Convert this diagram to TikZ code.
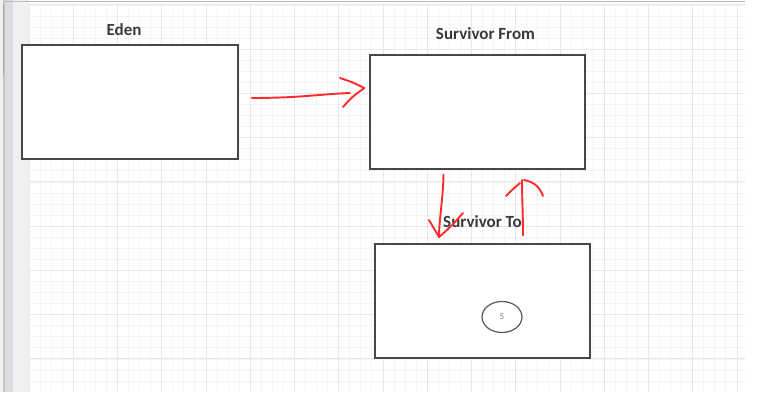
\documentclass[tikz,border=0pt]{standalone}
\usepackage{fontspec}
\setmainfont{Carlito}
\usetikzlibrary{shapes.geometric,positioning}

\definecolor{gridminor}{HTML}{F4F4F4}
\definecolor{gridmajor}{HTML}{E8E8E8}
\definecolor{boxline}{HTML}{474747}
\definecolor{labeltext}{HTML}{3A3A3A}
\definecolor{pen}{HTML}{FF2A2A}
\definecolor{sidebar}{HTML}{DCDCE0}
\definecolor{sidepad}{HTML}{F0F0F0}

\begin{document}
\begin{tikzpicture}[x=1pt, y=-1pt]
    % Definição dos estilos
    \tikzset{
        bufbox/.style = {rectangle, draw=boxline, line width=1.4pt, fill=white, minimum width=215pt, minimum height=114pt, inner sep=0pt},
        buflabel/.style = {font=\bfseries\fontsize{17}{19}\selectfont, text=labeltext, inner sep=0pt, anchor=base},
        objnode/.style = {ellipse, draw=boxline!90, line width=1.2pt, minimum width=40pt, minimum height=31pt, inner sep=0pt, font=\fontsize{9}{10}\selectfont, text=gray},
        minorline/.style = {draw=gridminor, line width=0.9pt},
        majorline/.style = {draw=gridmajor, line width=1pt},
        stroke/.style = {draw=pen, line width=1.9pt, line cap=round, line join=round}
    }
    \useasboundingbox (0,0) rectangle (764,406);

    % Fundo da tela
    \fill[white] (0,0) rectangle (745,392);
    \fill[white!94!black] (0,0) rectangle (3,392);
    \fill[gray!45] (3,0) rectangle (5,392);
    \fill[sidebar] (5,0) rectangle (13,392);
    \fill[sidepad] (13,0) rectangle (29,392);
    \draw[gray!70, line width=1.2pt] (3.5,4) -- (3.5,75);
    \foreach \i in {0,...,64}
        \draw[minorline] ({29+\i*11.0625},4) -- ({29+\i*11.0625},392);
    \foreach \j in {0,...,34}
        \draw[minorline] (29,{5+\j*11.0625}) -- (745,{5+\j*11.0625});
    \foreach \i in {0,...,16}
        \draw[majorline] ({29+\i*44.25},4) -- ({29+\i*44.25},392);
    \foreach \j in {0,...,8}
        \draw[majorline] (29,{5+\j*44.25}) -- (745,{5+\j*44.25});
    \draw[gray!55, line width=1.2pt] (4,1.5) -- (745,1.5);

    % Nós
    \node[bufbox, minimum width=216pt] (eden) at (130,102) {};
    \node[bufbox] (from) at (477.5,112) {};
    \node[bufbox] (to) at (482.5,301) {};
    \node[objnode] (obj) at (502,317) {5};

    \node[buflabel] (edenlabel) at ([xshift=-6pt, yshift=9pt]eden.north) {Eden};
    \node[buflabel] (fromlabel) at ([xshift=8pt, yshift=15pt]from.north) {Survivor From};
    \node[buflabel] (tolabel) at ([yshift=16pt]to.north) {Survivor To};

    % Setas desenhadas à mão
    \coordinate (rtail) at ([xshift=13pt, yshift=4pt]eden.east);
    \coordinate (rtip) at ([xshift=-5pt, yshift=24pt]from.west);
    \draw[stroke] (rtail) .. controls (300,98) and (322,94) .. (350,93);
    \draw[stroke] (340,78) .. controls (352,82) .. (rtip) .. controls (352,97) .. (343,107);

    \coordinate (dtail) at ([xshift=-34pt, yshift=-5pt]from.south);
    \coordinate (dtip) at (439,237);
    \draw[stroke] (dtail) .. controls (443,200) and (439,220) .. (dtip);
    \draw[stroke] (429,220) .. controls (434,228) .. (dtip) .. controls (452,226) and (455,222) .. (463,213);

    \coordinate (utail) at ([xshift=40.5pt, yshift=8pt]to.north);
    \coordinate (utip) at (522,180);
    \draw[stroke] (utail) .. controls (523,215) and (522,195) .. (utip);
    \draw[stroke] (506,196) .. controls (512,190) .. (520,183);
    \draw[stroke] (524,180) .. controls (535,182) and (540,188) .. (543,196);
\end{tikzpicture}
\end{document}
